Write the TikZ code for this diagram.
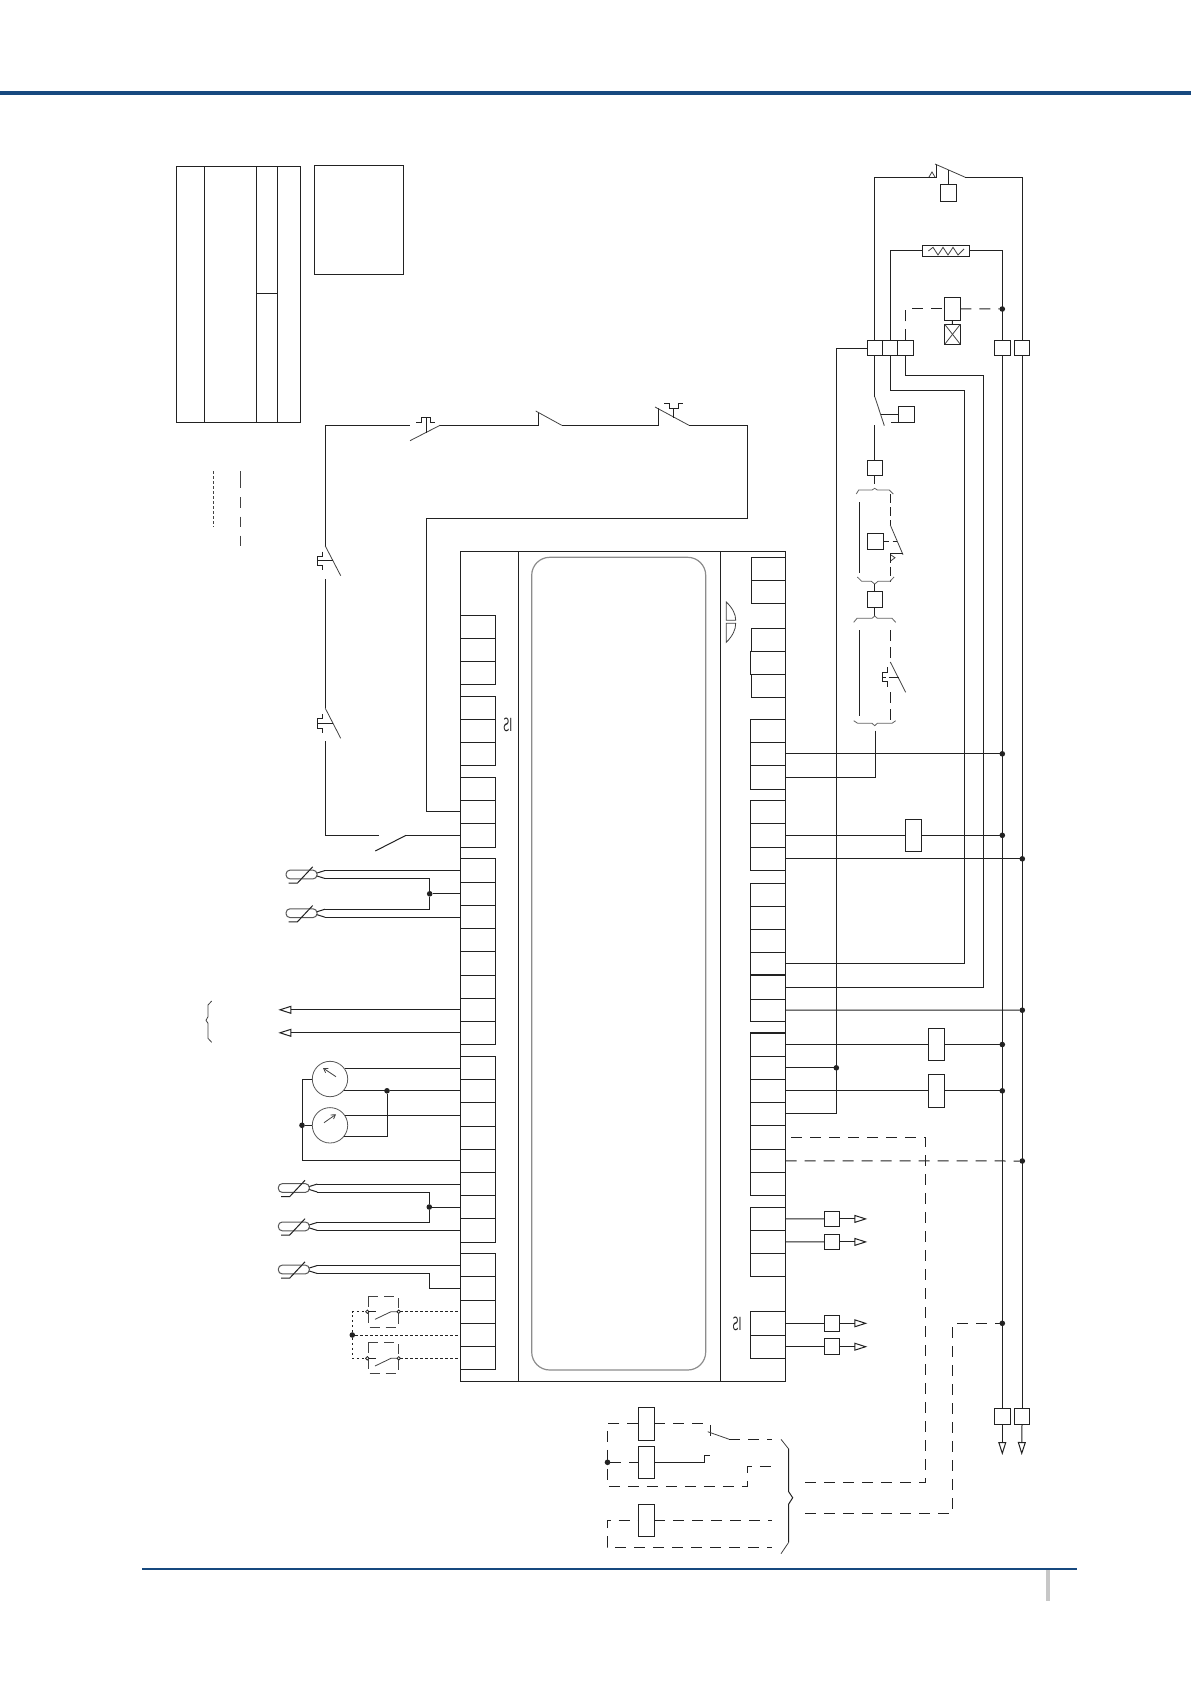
\documentclass[tikz,border=0pt]{standalone}
\usetikzlibrary{arrows.meta}
\definecolor{ink}{HTML}{222222}
\definecolor{rulebl}{HTML}{17497F}
\tikzset{
  x=1pt,y=-1pt,
  every path/.style={line width=1pt},
  bxs/.style={draw=ink,fill=white,rectangle,inner sep=0pt,outer sep=0pt,line width=1pt},
  dot/.style={circle,fill=ink,draw=none,inner sep=0pt,minimum size=5.6pt,outer sep=0pt},
  pin/.style={circle,fill=white,draw=ink,inner sep=0pt,minimum size=3.4pt,outer sep=0pt,line width=.8pt},
  gauge/.style={circle,draw=ink!75,fill=white,inner sep=0pt,outer sep=0pt,minimum size=35.4pt,line width=.8pt},
  dashw/.style={dash pattern=on 11pt off 8pt},
  dotw/.style={dash pattern=on 2.6pt off 2.4pt},
  thin1/.style={line width=.8pt,draw=ink!85},
  gr/.style={line width=.8pt,draw=ink!70},
  tri/.style={-{Triangle[open,length=13pt,width=8pt,line width=1pt]}},
  lab/.style={inner sep=0pt,outer sep=0pt,font=\sffamily\fontsize{19}{19}\selectfont,xscale=-.62,text=ink}
}
\newcommand{\bx}[5]{\node[bxs,minimum width={(#4-#2)*1pt},minimum height={(#5-#3)*1pt}] (#1) at ({(#2+#4)/2},{(#3+#5)/2}) {};}
\newcommand{\strip}[4]{\foreach \a [remember=\a as \p (initially 0), count=\i from 0] in {#4}{\ifnum\i>0 \bx{#1\i}{#2}{\p}{#3}{\a}\fi}}
\newcommand{\therm}[3]{%
  \draw[draw=ink!75,rounded corners=4pt] (#2,#3-4.4) rectangle (#2+31,#3+4.4);
  \draw[color=ink] (#2+31,#3-1.5) -- (#2+39,#3-4) coordinate (#1-a);
  \draw[color=ink] (#2+31,#3+1.5) -- (#2+39,#3+4) coordinate (#1-b);
  \draw[color=ink] (#2+2.7,#3+8.7) -- (#2+11.3,#3+8.7) -- (#2+26.7,#3-7.7);
}
\begin{document}
\begin{tikzpicture}[color=ink]
\useasboundingbox (0,0) rectangle (1191,1684);
\fill[white] (0,0) rectangle (1191,1684);
% page rules
\draw[draw=rulebl,line width=4pt] (0,93) -- (1191,93);
\draw[draw=rulebl,line width=2pt] (142,1569) -- (1077,1569);
\fill[black!22] (1046,1570) rectangle (1050,1600.7);
% table
\draw (176,166) rectangle (300.3,422);
\draw (204.3,166) -- (204.3,422);
\draw (256.3,166) -- (256.3,422);
\draw (277.3,166) -- (277.3,422);
\draw (256.3,293.3) -- (277.3,293.3);
\draw (314.3,165.3) rectangle (403.3,274.3);
\draw[thin1,dotw] (213.3,471) -- (213.3,527);
\draw[thin1,dash pattern=on 16.7pt off 9.7pt on 10.3pt off 9pt on 10pt off 9pt on 10.3pt off 100pt] (240.3,471) -- (240.3,546);
% controller body
\draw (460.3,551.3) rectangle (785.7,1381.7);
\draw (518.3,551.3) -- (518.3,1381.7);
\draw (720.3,551.3) -- (720.3,1381.7);
\draw[draw=black!45,line width=1.2pt,rounded corners=18pt] (531.7,557.3) rectangle (705.7,1370);
% left terminals
\strip{La}{460.3}{495.7}{615.3,638.3,661.3,684.3}
\strip{Lb}{460.3}{495.7}{696.3,719.3,742.3,765.3}
\strip{Lc}{460.3}{495.7}{777.3,800.3,823.3,847.3}
\strip{Ld}{460.3}{495.7}{858.3,882.3,905.3,928.3,951.3,975.3,998.3,1021.3,1044.3}
\strip{Le}{460.3}{495.7}{1056.3,1079.3,1102.3,1126.3,1149.3,1172.3,1195.3,1218.3,1242.3}
\strip{Lf}{460.3}{495.7}{1253.3,1276.3,1300.3,1323.3,1346.3,1369.3}
% right terminals
\strip{Ra}{751.3}{785.7}{557.3,580.3,603.3}
\strip{Rb}{751.3}{785.7}{628.3,651.3,674.3,697.3}
\bx{Rbm}{750.3}{651.3}{785.7}{674.3}
\strip{Rc}{750.3}{785.7}{719.3,742.3,765.3,789.3}
\strip{Rd}{750.3}{785.7}{800.3,823.3,847.3,870.3}
\strip{Re}{750.3}{785.7}{883,906,929,952,975,999,1021.3}
\strip{Rf}{750.3}{785.7}{1032.7,1056.3,1079.3,1102.3,1125.3,1149.3,1172.3,1195.3}
\strip{Rg}{750.3}{785.7}{1207.3,1230.3,1253.3,1276.3}
\strip{Rh}{750.3}{785.7}{1311.3,1335.3,1358.3}
\draw[line width=1.8pt] (750.3,975) -- (785.7,975);
\draw[line width=1.8pt] (750.3,1032.7) -- (785.7,1032.7);
% LED half discs
\draw[thin1] (726.3,602) .. controls (732.5,608) and (735.7,614) .. (735.7,620.3) -- (726.3,620.3) -- cycle;
\draw[thin1] (726.3,623.3) -- (735.7,623.3) .. controls (735.7,630) and (732.5,636) .. (726.3,642.3) -- cycle;
% labels
\node[lab] (lb1) at (507.7,725) {IS};
\node[lab] (lb2) at (737,1324) {IS};
% safety chain top-left
\coordinate (pA) at (325.3,546);
\coordinate (pB) at (410,425.3);
\coordinate (pC) at (440,425.3);
\coordinate (pD) at (538.3,412.3);
\coordinate (pE) at (561.7,425.3);
\coordinate (pF) at (658.3,408.3);
\coordinate (pG) at (689,425.3);
\draw (pA) -- (325.3,425.3) -- (pB);
\draw[thin1] (pC) -- (410,440.7);
\draw (416.3,422.7) -- (421,422.7) -- (421,417) -- (430.3,417) -- (430.3,422.7) -- (435,422.7);
\draw (426.3,417) -- (426.3,432.7);
\draw (pC) -- (538.3,425.3) -- (pD);
\draw[thin1] (535.7,411) -- (pE);
\draw (pE) -- (658.3,425.3) -- (pF);
\draw[thin1] (655,407) -- (pG);
\draw (664.3,403.3) -- (669,403.3) -- (669,408.3) -- (678.3,408.3) -- (678.3,403.3) -- (682.7,403.3);
\draw (673.3,408.3) -- (673.3,418);
\draw (pG) -- (747.3,425.3) -- (747.3,518.3) -- (426.3,518.3) -- (426.3,811.8) -- (Lc2.west);
% safety chain left vertical
\draw[thin1] (pA) -- (340.7,575.7);
\draw (322.7,551.7) -- (322.7,556.7) -- (317.3,556.7) -- (317.3,565) -- (322.7,565) -- (322.7,570);
\draw (317.3,560.7) -- (332.7,560.7);
\coordinate (pH) at (325.3,708.3);
\draw (325.3,579.3) -- (pH);
\draw[thin1] (pH) -- (340.7,738.3);
\draw (322.3,714) -- (322.3,718.3) -- (317.3,718.3) -- (317.3,728.3) -- (322.3,728.3) -- (322.3,732.7);
\draw (317.3,723.3) -- (332.7,723.3);
\coordinate (pI) at (379.3,835.3);
\coordinate (pJ) at (406,835.3);
\draw (325.3,741.3) -- (325.3,835.3) -- (pI);
\draw (pJ) -- (375.3,851);
\draw (pJ) -- (Lc3.west);
% thermistors
\therm{tA}{286}{874.5}
\therm{tB}{286}{913.2}
\therm{tC}{278.3}{1188}
\therm{tD}{278.3}{1226.4}
\therm{tE}{278.3}{1269.5}
\node[dot] (jA) at (429.7,893.8) {};
\node[dot] (jB) at (429.3,1207) {};
\draw (tA-a) -- (tA-a -| Ld1.west);
\draw (tA-b) -- (tA-b -| jA) -- (jA) -- (tB-a -| jA) -- (tB-a);
\draw (jA) -- (jA -| Ld2.west);
\draw (tB-b) -- (tB-b -| Ld3.west);
\draw (tC-a) -- (tC-a -| Le6.west);
\draw (tC-b) -- (tC-b -| jB) -- (jB) -- (tD-a -| jB) -- (tD-a);
\draw (jB) -- (jB -| Le7.west);
\draw (tD-b) -- (tD-b -| Le8.west);
\draw (tE-a) -- (tE-a -| Lf1.west);
\draw (tE-b) -- (tE-b -| jB) -- (Lf2.west -| jB) -- (Lf2.west);
% outputs left
\coordinate (aA) at (278.3,1009.8);
\coordinate (aB) at (278.3,1032.8);
\draw[tri] (Ld7.west) -- (aA);
\draw[tri] (Ld8.west) -- (aB);
\draw[thin1] (211.7,1001) -- (208,1005) -- (208,1016.7) -- (206,1020.3) -- (208,1023.3) -- (208,1038.3) -- (211.7,1042.3);
% gauges
\node[gauge] (gA) at (330,1079) {};
\node[gauge] (gB) at (330,1125.3) {};
\draw[thin1,-{Straight Barb[length=4pt,width=5pt]}] (336,1076.7) -- (323,1068);
\draw[thin1,-{Straight Barb[length=4pt,width=5pt]}] (324,1122.7) -- (336,1114.3);
\node[dot] (jC) at (387,1090.8) {};
\node[dot] (jD) at (302,1125.3) {};
\draw (gA.35) -- (gA.35 -| Le1.west);
\draw (gA.-40) -- (gA.-40 -| jC);
\draw (jC) -- (Le2.west);
\draw (gB.35) -- (gB.35 -| Le3.west);
\draw (gB.-40) -- (gB.-40 -| jC) -- (jC);
\draw (gA.west) -- (gA.west -| jD) -- (jD) -- (gB.west);
\draw (jD) -- (jD |- Le5.west) -- (Le5.west);
% dotted switches
\node[dot] (jE) at (352.3,1335) {};
\node[pin] (sA) at (367.3,1311.7) {};
\node[pin] (sB) at (398.7,1311.7) {};
\node[pin] (sC) at (367.3,1358.3) {};
\node[pin] (sD) at (398.7,1358.3) {};
\draw[dotw] (jE) -- (jE |- sA) -- (sA);
\draw[dotw] (jE) -- (jE |- sC) -- (sC);
\draw[dotw] (jE) -- (jE -| Lf4.west);
\draw[dotw] (sB) -- (sB -| Lf3.west);
\draw[dotw] (sD) -- (sD -| Lf5.west);
\draw (sA) -- (376,1311.7);
\draw (sC) -- (376,1358.3);
\draw[thin1] (375,1319.3) -- (391,1311.7) -- (sB);
\draw[thin1] (375,1366) -- (391,1358.3) -- (sD);
\draw[thin1,dash pattern=on 10pt off 6pt] (368.3,1296.7) rectangle (398.3,1327.3);
\draw[thin1,dash pattern=on 10pt off 6pt] (368.3,1342.7) rectangle (398.3,1373.3);
% right side: top terminal row
\bx{Ta}{867.3}{340.3}{882.3}{355.7}
\bx{Tb}{882.3}{340.3}{897.7}{355.7}
\bx{Tc}{897.7}{340.3}{913.3}{355.7}
\bx{Td}{994.3}{340.3}{1010.3}{355.7}
\bx{Te}{1014.3}{340.3}{1029.7}{355.7}
\bx{Tf}{994.3}{1408.3}{1010.3}{1424.3}
\bx{Tg}{1014.3}{1408.3}{1029.7}{1424.3}
% hp switch
\bx{Pa}{940.3}{184.3}{956.3}{201.7}
\coordinate (hA) at (936.7,164.3);
\coordinate (hB) at (965.3,177.3);
\draw (Ta.north) -- (Ta.north |- hB) -- (hA |- hB) -- (hA);
\draw[thin1] (935,164) -- (hB);
\draw (hB) -- (Te.north |- hB) -- (Te.north);
\draw[thin1] (929,177) -- (932,172) -- (935,177);
\draw (Pa.north) -- (948.3,170);
% resistor
\bx{Rr}{922.3}{245.3}{969.3}{256.3}
\draw (Tb.north) -- (Tb.north |- Rr.west) -- (Rr.west);
\draw (Rr.east) -- (Rr.east -| Td.north) -- (Td.north);
\draw[thin1] (928.3,251) -- (933,247.3) -- (938,255) -- (943,247.3) -- (948,255) -- (953,247.3) -- (958,255) -- (964,249);
% valve
\bx{Ka}{944.3}{297.3}{960.3}{320.3}
\bx{Kb}{944.7}{324.3}{960.3}{344.3}
\node[dot] (jF) at (1002.3,309) {};
\draw[dashw] (Tc.north) |- (Ka.west);
\draw[dashw] (Ka.east) -- (jF);
\draw (Ka.south) -- (Kb.north);
\draw[thin1] (Kb.north west) -- (Kb.south east);
\draw[thin1] (Kb.north east) -- (Kb.south west);
% long wires down
\draw (Td.south) -- (Tf.north);
\draw (Te.south) -- (Tg.north);
\draw[tri] (Tf.south) -- (1002.3,1455);
\draw[tri] (Tg.south) -- (1021.7,1455);
% terminal A left to relay
\node[dot] (jG) at (836.3,1067.8) {};
\draw (Ta.west) -- (Ta.west -| jG) -- (Rf4.east -| jG) -- (Rf4.east);
\draw (Rf2.east) -- (jG);
% wires tb,tc to R
\draw (Tb.south) -- (890,390.3) -- (964.3,390.3) -- (964.3,963.5) -- (Re4.east);
\draw (Tc.south) -- (905.5,375.3) -- (983.3,375.3) -- (983.3,987) -- (Re5.east);
% contact below Ta
\coordinate (cA) at (874.8,396.7);
\draw (Ta.south) -- (cA);
\draw[thin1] (cA) -- (884.3,425.7);
\bx{Pb}{898.3}{406.3}{914.7}{422.3}
\draw (880.7,414.3) -- (Pb.west);
\draw (891,422.3) -- (898.3,422.3);
\bx{Pc}{867.3}{460.3}{882.3}{475.3}
\draw (Pc.north |- 0,425) -- (Pc.north);
\draw (Pc.south) -- (874.8,484);
% brace group 1
\draw[gr] (856.3,494) -- (858.7,490) -- (872,490) -- (874.7,488.3) -- (877.3,490) -- (889.3,490) -- (893.3,494);
\draw (859.3,502) -- (859.3,573.3);
\draw[dash pattern=on 9pt off 4pt] (890.3,494) -- (890.3,525);
\draw[thin1] (890.3,525) -- (903,554.7);
\draw (903,553.7) -- (890.3,553.7);
\draw[dash pattern=on 9pt off 4pt] (890.3,553.7) -- (890.3,581.7);
\draw[thin1] (891,555) -- (895,557.7) -- (891,560.7);
\bx{Pd}{867.3}{533.3}{883.7}{549.3}
\draw[dash pattern=on 5pt off 4pt] (Pd.east) -- (897.3,541.3);
\draw[gr] (857.3,577) -- (861.7,581.3) -- (871.3,581.3) -- (874.7,584) -- (878,581.3) -- (890,581.3) -- (894,577);
\bx{Pe}{867.3}{591.3}{882.3}{607.3}
\draw (874.8,584) -- (Pe.north);
\draw (Pe.south) -- (874.8,616);
% brace group 2
\draw[gr] (853.7,622.3) -- (857,618.3) -- (872,618.3) -- (874.7,616) -- (877.3,618.3) -- (892,618.3) -- (895.7,622.3);
\draw (859.3,630) -- (859.3,716);
\draw[dash pattern=on 11pt off 6pt] (890.3,630) -- (890.3,662);
\draw[thin1] (890.3,662) -- (905.7,692.3);
\draw[dash pattern=on 11pt off 6pt] (890.3,692.3) -- (890.3,720.7);
\draw (887.3,667.3) -- (887.3,672) -- (882.3,672) -- (882.3,681.3) -- (887.3,681.3) -- (887.3,686.7);
\draw (882.3,677) -- (885.5,677);
\draw (888.5,677) -- (898.7,677);
\draw[gr] (853.7,720.7) -- (857.7,723.3) -- (872,723.3) -- (874.7,725.7) -- (877.3,723.3) -- (892,723.3) -- (895.7,720.7);
\coordinate (cB) at (875.3,730.7);
\draw (cB) |- (Rc3.east);
% power rail connections
\node[dot] (jH) at (1002.3,753.8) {};
\node[dot] (jI) at (1002.3,835.3) {};
\node[dot] (jJ) at (1022.3,858.8) {};
\node[dot] (jK) at (1022.3,1010.2) {};
\node[dot] (jL) at (1002.3,1044.5) {};
\node[dot] (jM) at (1002.3,1090.8) {};
\node[dot] (jN) at (1022.3,1161) {};
\node[dot] (jO) at (1002.3,1323.3) {};
\draw (Rc2.east) -- (jH);
\bx{Kc}{905.3}{819.3}{921.3}{851.3}
\draw (Rd2.east) -- (Kc.west);
\draw (Kc.east) -- (jI);
\draw (Rd3.east) -- (jJ);
\draw (Re6.east) -- (jK);
\bx{Kd}{928.3}{1028.5}{944.3}{1060.5}
\bx{Ke}{928.3}{1074.3}{944.3}{1107.3}
\draw (Rf1.east) -- (Kd.west);
\draw (Kd.east) -- (jL);
\draw (Rf3.east) -- (Ke.west);
\draw (Ke.east) -- (jM);
\draw[dashw] (Rf6.east) -- (jN);
% outputs right
\bx{Qa}{824.3}{1211.1}{839.7}{1226.7}
\bx{Qb}{824.3}{1234.1}{839.7}{1249.7}
\bx{Qc}{824.3}{1315.3}{839.7}{1331.3}
\bx{Qd}{824.3}{1338.7}{839.7}{1354.7}
\draw (Rg1.east) -- (Qa.west);
\draw (Rg2.east) -- (Qb.west);
\draw (Rh1.east) -- (Rh1.east -| Qc.west);
\draw (Rh2.east) -- (Rh2.east -| Qd.west);
\draw[tri] (Qa.east) -- (Qa.east -| 867.3,0);
\draw[tri] (Qb.east) -- (Qb.east -| 867.3,0);
\draw[tri] (Qc.east) -- (Qc.east -| 867.3,0);
\draw[tri] (Qd.east) -- (Qd.east -| 867.3,0);
% relay group bottom
\bx{Ca}{638.3}{1407.3}{654.3}{1440.3}
\bx{Cb}{638.3}{1446.3}{654.3}{1478.3}
\bx{Cd}{638.3}{1504.3}{654.3}{1536.3}
\node[dot] (jP) at (607.5,1462.3) {};
\draw[dashw] (Ca.west) -- (607.3,1423.8) -- (607.3,1486.3) -- (747.3,1486.3) -- (747.3,1466.3) -- (771.7,1466.3);
\draw[dashw] (jP) -- (Cb.west);
\draw[dashw] (Ca.east) -- (710.3,1423.8) -- (710.3,1437.7);
\draw[thin1] (707.7,1431.7) -- (729.3,1439.3);
\draw[dashw] (729.3,1439.3) -- (771.7,1439.3);
\draw (Cb.east) -- (704.3,1462.3) -- (704.3,1455) -- (710.3,1455);
\draw[dashw] (607.3,1528) -- (607.3,1520.3) -- (Cd.west);
\draw[dashw] (607.3,1536) -- (607.3,1547) -- (771.7,1547);
\draw[dashw] (Cd.east) -- (Cd.east -| 771.7,0);
\draw[thin1] (781,1439.3) -- (788.7,1449);
\draw (788.7,1449) -- (788.7,1491.7) -- (792.7,1497.7) -- (788.7,1504) -- (788.7,1542.3);
\draw[thin1] (788.7,1542.3) -- (781,1553.7);
\coordinate (bA) at (805,1482.3);
\coordinate (bB) at (805,1513.3);
\draw[dashw] (bA) -- (925.3,1482.3) -- (925.3,1137.3) -- (Rf5.east);
\draw[dashw] (bB) -- (952.3,1513.3) -- (952.3,1323.3) -- (jO);
\end{tikzpicture}
\end{document}
